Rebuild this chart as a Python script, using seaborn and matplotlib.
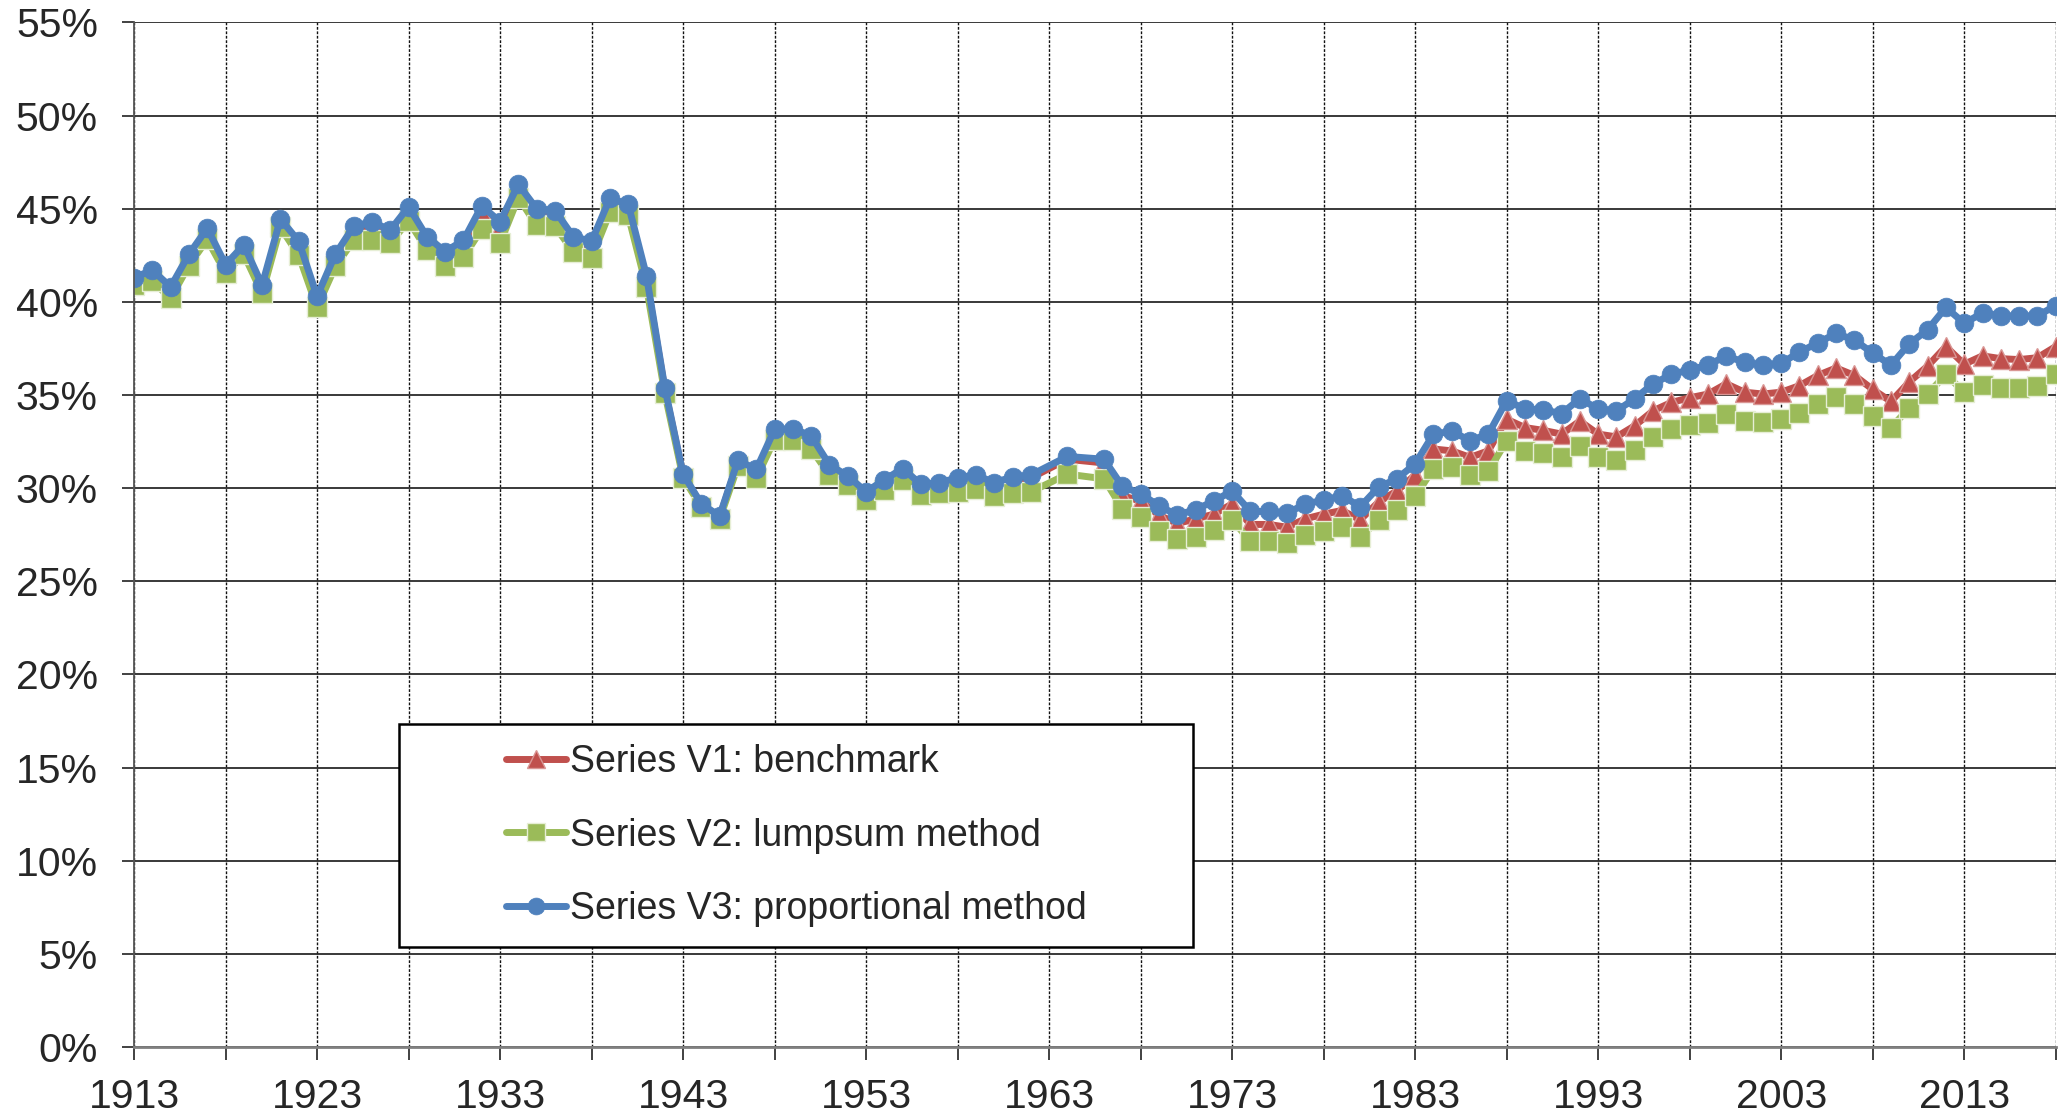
import matplotlib
matplotlib.use("Agg")
import matplotlib.pyplot as plt
from matplotlib.patches import Rectangle
from matplotlib.ticker import PercentFormatter
import numpy as np
import pandas as pd
import seaborn as sns

years = list(range(1913, 2019))

# V1: benchmark (1963 and 1965 are blank)
v1 = [41.1, 41.45, 40.55, 42.3, 43.7, 41.8, 42.85, 40.7, 44.25, 43.0,
      40.05, 42.3, 43.8, 44.0, 43.6, 44.85, 43.25, 42.45, 43.05, 44.75,
      43.95, 46.0, 44.7, 44.6, 43.2, 42.95, 45.3, 45.05, 41.2, 35.3,
      30.7, 29.1, 28.45, 31.4, 30.9, 33.0, 33.05, 32.6, 31.1, 30.5,
      29.7, 30.3, 30.9, 30.05, 30.15, 30.4, 30.55, 30.15, 30.45, 30.55,
      None, 31.55, None, 31.35, 29.6, 29.3, 28.55, 28.1, 28.35, 28.6,
      29.15, 28.05, 28.05, 27.9, 28.35, 28.6, 28.8, 28.3, 29.25, 29.85,
      30.7, 32.1, 32.0, 31.65, 32.0, 33.7, 33.25, 33.1, 32.9, 33.6,
      32.9, 32.75, 33.35, 34.15, 34.6, 34.85, 35.05, 35.6, 35.15, 35.05,
      35.15, 35.5, 36.05, 36.45, 36.05, 35.3, 34.65, 35.7, 36.55, 37.6,
      36.65, 37.1, 36.95, 36.9, 37.0, 37.6]

# V2: lumpsum method
v2 = [40.9, 41.1, 40.2, 41.95, 43.35, 41.55, 42.55, 40.45, 44.0, 42.5,
      39.7, 41.9, 43.3, 43.3, 43.15, 44.35, 42.8, 41.95, 42.4, 43.9,
      43.15, 45.6, 44.1, 44.05, 42.7, 42.35, 44.8, 44.65, 40.8, 35.1,
      30.55, 29.0, 28.35, 31.2, 30.55, 32.6, 32.6, 32.1, 30.7, 30.15,
      29.35, 29.9, 30.45, 29.65, 29.75, 29.8, 29.95, 29.55, 29.75, 29.8,
      None, 30.75, None, 30.5, 28.9, 28.45, 27.7, 27.25, 27.4, 27.75,
      28.3, 27.15, 27.15, 27.05, 27.5, 27.7, 27.9, 27.35, 28.3, 28.8,
      29.55, 31.05, 31.15, 30.7, 30.9, 32.55, 32.0, 31.9, 31.65, 32.25,
      31.65, 31.5, 32.05, 32.75, 33.15, 33.4, 33.5, 34.0, 33.6, 33.55,
      33.7, 34.05, 34.5, 34.9, 34.5, 33.85, 33.25, 34.3, 35.05, 36.1,
      35.15, 35.55, 35.4, 35.35, 35.5, 36.1]

# V3: proportional method
v3 = [41.3, 41.7, 40.8, 42.55, 43.95, 42.0, 43.05, 40.9, 44.45, 43.25,
      40.3, 42.55, 44.05, 44.3, 43.85, 45.1, 43.5, 42.7, 43.3, 45.15,
      44.3, 46.3, 45.0, 44.9, 43.5, 43.25, 45.55, 45.25, 41.4, 35.4,
      30.75, 29.15, 28.5, 31.5, 31.0, 33.15, 33.2, 32.8, 31.25, 30.65,
      29.8, 30.45, 31.05, 30.2, 30.3, 30.55, 30.7, 30.3, 30.6, 30.7,
      None, 31.7, None, 31.55, 30.1, 29.7, 29.05, 28.55, 28.85, 29.3,
      29.85, 28.75, 28.75, 28.65, 29.15, 29.35, 29.6, 29.0, 30.05, 30.5,
      31.3, 32.9, 33.05, 32.55, 32.9, 34.7, 34.25, 34.2, 34.0, 34.8,
      34.25, 34.15, 34.8, 35.6, 36.1, 36.35, 36.6, 37.1, 36.75, 36.6,
      36.7, 37.3, 37.8, 38.3, 37.95, 37.25, 36.6, 37.75, 38.5, 39.7,
      38.85, 39.4, 39.25, 39.25, 39.25, 39.8]

labels = ["Series V1: benchmark", "Series V2: lumpsum method",
          "Series V3: proportional method"]
xtick_years = [1913, 1923, 1933, 1943, 1953, 1963, 1973, 1983, 1993, 2003, 2013]
yticks = [0, 5, 10, 15, 20, 25, 30, 35, 40, 45, 50, 55]

sns.set_style("white")
plt.rcParams["font.family"] = ["Liberation Sans", "DejaVu Sans"]

fig = plt.figure(figsize=(20.65, 11.2), dpi=100)
ax = fig.add_axes([0.0649, 0.0652, 0.9955 - 0.0649, 0.98 - 0.0652])

styles = [
    dict(color="#C0504D", marker="^", markersize=14.5, markeredgecolor="#d99694", markeredgewidth=1.0),
    dict(color="#9BBB59", marker="s", markersize=14.5, markeredgecolor="#e6eed5", markeredgewidth=1.0),
    dict(color="#4F81BD", marker="o", markersize=13.5, markeredgecolor="#4F81BD", markeredgewidth=0.5),
]

for vals, lab, st in zip([v1, v2, v3], labels, styles):
    df = pd.DataFrame({"year": years, "share": vals}).dropna()
    sns.lineplot(data=df, x="year", y="share", ax=ax, label=lab,
                 linewidth=5, **st)

ax.set_xlim(1913, 2018)
ax.set_ylim(0, 55)
ax.set_xticks(xtick_years)
ax.set_xticks(range(1913, 2019, 5), minor=True)
ax.set_yticks(yticks)
ax.yaxis.set_major_formatter(PercentFormatter(decimals=0))
ax.set_xlabel("")
ax.set_ylabel("")

ax.grid(axis="y", color="#2a2a2a", linewidth=1.3, linestyle="-")
ax.grid(axis="x", which="both", color="#111111", linewidth=1.0, linestyle=(0, (2, 1.2)))
ax.set_axisbelow(True)

for s in ["top", "right"]:
    ax.spines[s].set_visible(False)
ax.spines["left"].set_color("#555555")
ax.spines["left"].set_linewidth(1.3)
ax.spines["bottom"].set_color("#808080")
ax.spines["bottom"].set_linewidth(2)

ax.tick_params(axis="y", which="major", direction="out", length=9, width=1.3,
               color="#333333", labelsize=29.5, pad=17, left=True)
ax.tick_params(axis="x", which="both", direction="out", length=9, width=1.3,
               color="#333333", bottom=True)
ax.tick_params(axis="x", which="major", labelsize=29.5, pad=13)

# legend box
box = Rectangle((0.1932, 0.1545), 0.3845, 0.1991, transform=fig.transFigure,
                facecolor="white", edgecolor="black", linewidth=1.8, zorder=10)
ax.add_patch(box)
leg = ax.legend(loc="center", bbox_to_anchor=(0.3855, 0.254),
                bbox_transform=fig.transFigure, frameon=False, fontsize=27,
                handlelength=1.6, handletextpad=0.1, labelspacing=1.0,
                markerscale=0.9)
leg.set_zorder(11)

fig.savefig("out.png", dpi=100)
